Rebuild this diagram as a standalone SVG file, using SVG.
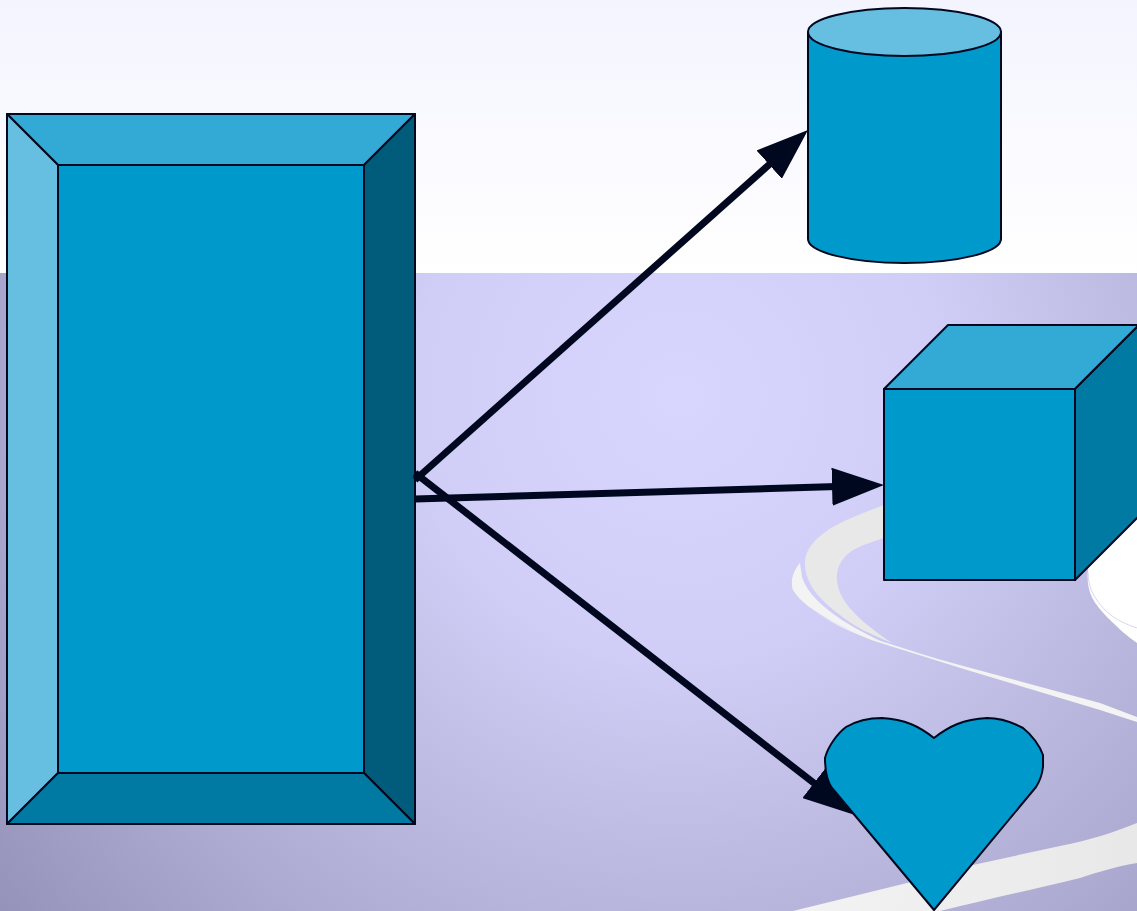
<svg xmlns="http://www.w3.org/2000/svg" width="1137" height="911" viewBox="0 0 1137 911">
<style>
.s{stroke:#00081f;stroke-width:2;stroke-linejoin:round}
.face{fill:#0099cc}.top{fill:#33aad6}.left{fill:#66bfe0}.right{fill:#005c7a}.bottom{fill:#007aa3}
.w1{fill:#e8e8e8}.w2{fill:#f3f3f3}
.c{fill:none;stroke:#00081f;stroke-width:7;marker-end:url(#head)}
</style>
<defs>
<linearGradient id="sky" x1="0" y1="0" x2="0" y2="1"><stop offset="0" stop-color="#f4f4ff"/><stop offset="1" stop-color="#ffffff"/></linearGradient>
<radialGradient id="floor" gradientUnits="userSpaceOnUse" cx="680" cy="395" r="880"><stop offset="0" stop-color="#d8d6ff"/><stop offset=".3" stop-color="#d0cdf6"/><stop offset=".72" stop-color="#aeabd2"/><stop offset="1" stop-color="#9390b8"/></radialGradient>
<linearGradient id="band" gradientUnits="userSpaceOnUse" x1="793" y1="0" x2="1137" y2="0"><stop offset="0" stop-color="#f3f3f3"/><stop offset="1" stop-color="#e8e8e8"/></linearGradient>
<marker id="head" markerUnits="userSpaceOnUse" markerWidth="53" markerHeight="38" refX="22" refY="19" orient="auto"><path d="M0 0L52 19L0 38Z" fill="#00081f"/></marker>
</defs>
<g id="background">
<rect width="1137" height="273" fill="url(#sky)"/>
<rect y="273" width="1137" height="638" fill="url(#floor)"/>
<path class="w2" d="M800 563C793 572 790 582 793 590C806 612 850 632 887 643C915 652 940 660 967 667L1100 703L1137 717V722L1100 710L967 670L887 645C850 634 806 612 796 590Z"/>
<path class="w2" d="M800 563C792 572 790 584 795 592C808 612 850 632 887 644C870 636 812 610 802 577Z"/>
<path class="w1" d="M884 505C860 514 840 522 828 530C812 541 804 552 805 565C806 585 820 600 840 615C855 627 870 634 892 643C870 628 846 610 839 590C833 572 840 557 855 549C865 544 875 541 884 538Z"/>
<path d="M1088 570C1086 590 1092 602 1107 617C1118 628 1128 637 1137 643V480H1100Z" fill="#ffffff"/>
<path d="M1088 572C1088 590 1096 600 1105 610C1115 620 1128 625 1137 628" fill="none" stroke="#d8d6ef" stroke-width="1"/>
<path fill="url(#band)" d="M793 911L907 883L973 865L1060 846C1090 840 1115 832 1137 823V863C1118 866 1098 872 1080 878C1030 890 985 900 940 911Z"/>
</g>
<g id="bevel">
<rect class="s face" x="58" y="165" width="306" height="608"/>
<path class="s top" d="M7 114H415L364 165H58Z"/>
<path class="s left" d="M7 114L58 165V773L7 824Z"/>
<path class="s right" d="M415 114V824L364 773V165Z"/>
<path class="s bottom" d="M7 824L58 773H364L415 824Z"/>
</g>
<g id="cylinder">
<path class="s face" d="M808 32V239C808 252 851 263 904.500 263S1001 252 1001 239V32Z"/>
<ellipse class="s left" cx="904.500" cy="32" rx="96.500" ry="24"/>
</g>
<g id="cube">
<rect class="s face" x="884" y="389" width="191" height="191"/>
<path class="s top" d="M884 389L948 325H1139L1075 389Z"/>
<path class="s bottom" d="M1075 389L1139 325V516L1075 580Z"/>
</g>
<g id="connectors">
<line class="c" x1="415" y1="480" x2="785.600" y2="150"/>
<line class="c" x1="415" y1="499" x2="854" y2="486"/>
<line class="c" x1="415" y1="473" x2="831.300" y2="796.600"/>
</g>
<g id="heart">
<path class="s face" d="M934 910L832 788C827 781 825 770 825 758C828 746 838 733 846 727C858 720 870 718 882 718C905 719 920 727 934 738C948 727 963 719 987 718C1000 718 1012 722 1023 728C1032 735 1040 746 1043 755V767C1042 775 1040 781 1036 787Z"/>
</g>
</svg>
